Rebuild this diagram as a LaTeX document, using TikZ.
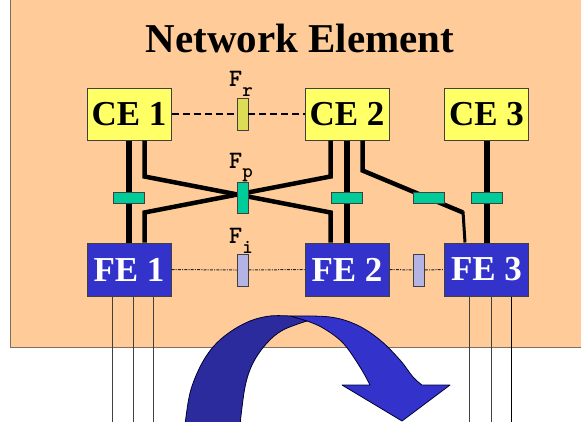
\documentclass[tikz,border=0pt]{standalone}
\usepackage{fontspec}
\setmainfont{Liberation Serif}
\newfontfamily\courfont{lmmonolt10-bold.otf}
\usetikzlibrary{calc}
\definecolor{bgorange}{HTML}{FFCC99}
\definecolor{bgedge}{HTML}{7F6F60}
\definecolor{ceyellow}{HTML}{FFFF66}
\definecolor{feblue}{HTML}{3333CC}
\definecolor{fgreen}{HTML}{00CC99}
\definecolor{fryellow}{HTML}{DDDD55}
\definecolor{filav}{HTML}{B3B3E6}
\definecolor{arrowdark}{HTML}{2B2B9E}
\definecolor{edgegray}{HTML}{404040}
\begin{document}
\begin{tikzpicture}[x=1pt,y=-1pt,
  box/.style={draw=edgegray,line width=1pt,minimum width=84pt,minimum height=52pt,inner sep=0pt,font=\fontsize{35}{35}\selectfont\bfseries},
  cebox/.style={box,fill=ceyellow,text=black},
  febox/.style={box,fill=feblue,text=white,minimum height=53pt},
  fbar/.style={draw=edgegray,line width=0.8pt,minimum width=11pt,minimum height=32pt,inner sep=0pt},
  flat/.style={draw=edgegray,line width=0.8pt,fill=fgreen,minimum width=31pt,minimum height=11pt,inner sep=0pt},
  mainlink/.style={line width=6pt},
  sidelink/.style={line width=4.5pt},
  thinlink/.style={line width=3pt},
  crlink/.style={line width=2pt,dash pattern=on 7pt off 4pt},
  felink/.style={line width=1pt,draw=black!85,dash pattern=on 3pt off 1.2pt on 1pt off 1.2pt},
  legline/.style={line width=1pt,draw=edgegray},
  flabel/.style={anchor=base west,inner sep=0pt,font=\courfont\fontsize{25}{25}\selectfont},
  arrowedge/.style={draw=black!80!blue,line width=0.8pt,line join=round}
]
\useasboundingbox (0,0) rectangle (581,421);
\clip (0,0) rectangle (581,421);

% background
\fill[bgorange] (10,-5) rectangle (590,347);
\draw[bgedge,line width=1pt] (10,-5) -- (10,347) -- (590,347);

\node[anchor=base,inner sep=0pt,font=\fontsize{41}{41}\selectfont\bfseries] (title) at (300,52) {Network Element};

% nodes
\node[cebox] (ce1) at (129,114) {CE 1};
\node[cebox] (ce2) at (347,114) {CE 2};
\node[cebox] (ce3) at (486.5,114) {CE 3};
\node[febox] (fe1) at (129,269.5) {FE 1};
\node[febox] (fe2) at (347,269.5) {FE 2};
\node[febox] (fe3) at (486.5,269.5) {FE 3};

% links
\draw[mainlink] (ce1) -- (fe1);
\draw[mainlink] (ce2) -- (fe2);
\draw[mainlink] (ce3) -- (fe3);
\draw[sidelink] ($(ce1.south east)+(-27,0)$) -- ++(0,36) -- ($(fe2.north west)+(26,-30)$) -- ($(fe2.north west)+(26,0)$);
\draw[sidelink] ($(fe1.north east)+(-27,0)$) -- ++(0,-30) -- ($(ce2.south west)+(26,36)$) -- ($(ce2.south west)+(26,0)$);
\draw[sidelink] ($(ce2.south east)+(-27,0)$) -- ++(0,30) -- ($(fe3.north west)+(19,-30)$);
\draw[thinlink] ($(fe3.north west)+(19,-31)$) -- ($(fe3.north west)+(21,0)$);

% F bars
\node[fbar,fill=fryellow] (fr) at (242.5,114) {};
\node[fbar,fill=fgreen,minimum height=31pt] (fp) at (242.5,197.5) {};
\node[fbar,fill=filav] (fi) at (242.5,270) {};
\node[fbar,fill=filav] (fi2) at (419,270) {};

% green flats
\node[flat] (g1) at (128.5,197.5) {};
\node[flat] (g2) at (346.5,197.5) {};
\node[flat] (g3) at (429,197.5) {};
\node[flat] (g4) at (486.5,197.5) {};

% inter-element lines
\draw[crlink] (ce1.east) -- (fr.west);
\draw[crlink] (fr.east) -- (ce2.west);
\draw[felink] (fe1.east) -- (fi.west);
\draw[felink] (fi.east) -- (fe2.west);
\draw[felink] (fe2.east) -- (fi2.west);
\draw[felink] (fi2.east) -- (fe3.west);

% labels
\node[flabel] (frlab) at (229,86) {F\raisebox{-10pt}{\fontsize{20}{20}\selectfont r}};
\node[flabel] (fplab) at (229,168) {F\raisebox{-9pt}{\fontsize{20}{20}\selectfont p}};
\node[flabel] (filab) at (229,243) {F\raisebox{-10pt}{\fontsize{20}{20}\selectfont i}};

% leg lines
\foreach \dx in {26,47,67} {
  \draw[legline] ($(fe1.south west)+(\dx,0)$) -- ++(0,130);
}
\foreach \dx in {25,47} {
  \draw[legline] ($(fe3.south west)+(\dx,0)$) -- ++(0,130);
}
\draw[legline,draw=black] ($(fe3.south west)+(67,0)$) -- ++(0,130);

% curved arrow
\filldraw[fill=feblue,arrowedge]
  plot[smooth,tension=0.6] coordinates {(290,316) (330,317) (357,325) (380,340) (400,360) (413,377) (422,385)}
  -- (450,385) -- (402,421) -- (342,385) -- (370,385)
  -- plot[smooth,tension=0.6] coordinates {(370,385) (360,367) (343,343) (323,328) (307,321)} -- cycle;
\filldraw[fill=arrowdark,arrowedge]
  plot[smooth,tension=0.6] coordinates {(185,425) (190,393) (200,367) (213,347) (230,332) (250,321) (270,316) (290,316)}
  -- plot[smooth,tension=0.6] coordinates {(307,321) (283,330) (267,343) (253,363) (245,387) (240,425)} -- cycle;
\end{tikzpicture}
\end{document}
